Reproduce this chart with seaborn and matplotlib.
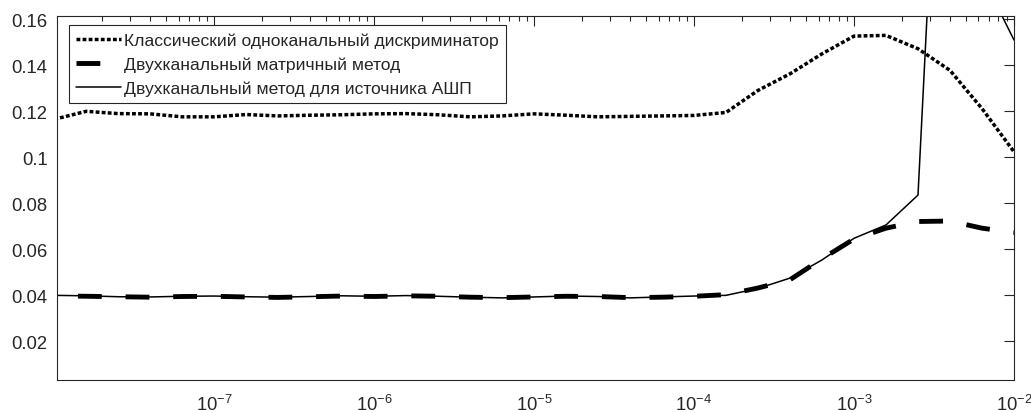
import numpy as np
import pandas as pd
import matplotlib
matplotlib.use('Agg')
import matplotlib.pyplot as plt
import matplotlib.ticker as mticker
import seaborn as sns

# x grid: exponents of 10
x_exp = [-8.0, -7.8, -7.6, -7.4, -7.2, -7.0, -6.8, -6.6, -6.4, -6.2, -6.0,
         -5.8, -5.6, -5.4, -5.2, -5.0, -4.8, -4.6, -4.4, -4.2, -4.0,
         -3.8, -3.6, -3.4, -3.2, -3.0, -2.8, -2.6, -2.4, -2.2, -2.0]

classic = [0.1165, 0.1200, 0.1190, 0.1189, 0.1176, 0.1176, 0.1186, 0.1180, 0.1183, 0.1185, 0.1189,
           0.1190, 0.1185, 0.1176, 0.1180, 0.1189, 0.1183, 0.1176, 0.1178, 0.1180, 0.1182,
           0.1195, 0.1291, 0.1363, 0.1450, 0.1527, 0.1530, 0.1472, 0.1378, 0.1212, 0.1024]

matrix = [0.0398, 0.0396, 0.0394, 0.0392, 0.0395, 0.0396, 0.0393, 0.0391, 0.0394, 0.0397, 0.0395,
          0.0398, 0.0396, 0.0392, 0.0390, 0.0393, 0.0396, 0.0395, 0.0390, 0.0392, 0.0396,
          0.0403, 0.0432, 0.0468, 0.0559, 0.0645, 0.0692, 0.0721, 0.0723, 0.0692, 0.0673]

awgn = [0.0400, 0.0398, 0.0394, 0.0393, 0.0396, 0.0397, 0.0394, 0.0392, 0.0395, 0.0398, 0.0396,
        0.0399, 0.0396, 0.0392, 0.0389, 0.0393, 0.0397, 0.0395, 0.0389, 0.0393, 0.0397,
        0.0400, 0.0430, 0.0475, 0.0554, 0.0648, 0.0706, 0.0836, 0.3600, 0.1790, 0.1510]

labels = ['Классический одноканальный дискриминатор',
          'Двухканальный матричный метод',
          'Двухканальный метод для источника АШП']

x_major = [1e-7, 1e-6, 1e-5, 1e-4, 1e-3, 1e-2]
y_major = [0.02, 0.04, 0.06, 0.08, 0.1, 0.12, 0.14, 0.16]

x = [10 ** e for e in x_exp]
df = pd.DataFrame({'x': x, 'classic': classic, 'matrix': matrix, 'awgn': awgn})

sns.set_theme(style='white')
plt.rcParams['font.family'] = ['Liberation Sans', 'DejaVu Sans']
plt.rcParams['mathtext.fontset'] = 'custom'
plt.rcParams['mathtext.rm'] = 'Liberation Sans'
plt.rcParams['mathtext.it'] = 'Liberation Sans:italic'

fig = plt.figure(figsize=(10.31, 4.14), dpi=100)
ax = fig.add_axes([0.0556, 0.0797, 0.9279, 0.8785])

sns.lineplot(data=df, x='x', y='classic', ax=ax, color='black', lw=2.5,
             linestyle=(0, (1.1, 0.65)), label=labels[0])
sns.lineplot(data=df, x='x', y='matrix', ax=ax, color='black', lw=3.5,
             linestyle=(4.9, (4.9, 4.9)), label=labels[1])
sns.lineplot(data=df, x='x', y='awgn', ax=ax, color='black', lw=1.1,
             label=labels[2])

ax.set_xscale('log')
ax.set_xlim(10 ** -7.98, 1e-2)
ax.set_ylim(0.0032, 0.1613)
ax.set_xlabel('')
ax.set_ylabel('')

ax.set_yticks(y_major)
ax.yaxis.set_major_formatter(mticker.FuncFormatter(lambda v, p: f'{v:g}'))
ax.set_xticks(x_major)
ax.xaxis.set_major_formatter(mticker.LogFormatterSciNotation())
ax.xaxis.set_minor_locator(mticker.LogLocator(base=10, subs=np.arange(2, 10), numticks=20))
ax.xaxis.set_minor_formatter(mticker.NullFormatter())

edge = '#262626'
for s in ax.spines.values():
    s.set_color(edge)
    s.set_linewidth(0.8)
ax.tick_params(which='both', direction='in', top=True, right=True, colors=edge,
               labelcolor='#262626', labelsize=13.3, width=0.8)
ax.tick_params(which='major', length=7.5)
ax.tick_params(which='minor', length=3.8)
ax.tick_params(axis='y', pad=7)
ax.tick_params(axis='x', pad=10)

leg = ax.legend(loc='upper left', bbox_to_anchor=(0.0122, 0.976), borderaxespad=0,
                fontsize=12.6, frameon=True, fancybox=False, edgecolor=edge,
                framealpha=1, handlelength=2.55, handletextpad=0.15,
                labelspacing=0.48, borderpad=0.42)
leg.get_frame().set_linewidth(0.8)
leg.get_lines()[1].set_linestyle((0, (4.9, 4.9)))

fig.savefig('out.png', dpi=100)
